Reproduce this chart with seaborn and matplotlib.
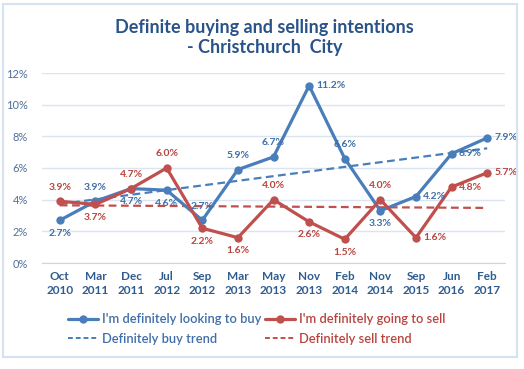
import numpy as np
import pandas as pd
import matplotlib
matplotlib.use("Agg")
import matplotlib.pyplot as plt
import seaborn as sns
from matplotlib.lines import Line2D
from matplotlib.patches import Rectangle
from matplotlib.ticker import FuncFormatter

months = ["Oct", "Mar", "Dec", "Jul", "Sep", "Mar", "May", "Nov", "Feb", "Nov", "Sep", "Jun", "Feb"]
years = ["2010", "2011", "2011", "2012", "2012", "2013", "2013", "2013", "2014", "2014", "2015", "2016", "2017"]
buy = [2.7, 3.9, 4.7, 4.6, 2.7, 5.9, 6.7, 11.2, 6.6, 3.3, 4.2, 6.9, 7.9]
sell = [3.9, 3.7, 4.7, 6.0, 2.2, 1.6, 4.0, 2.6, 1.5, 4.0, 1.6, 4.8, 5.7]

# where each data label sits relative to its point
buy_pos = ["below", "above", "below", "below", "above", "above", "above", "right", "above", "below", "right", "right", "right"]
sell_pos = ["above", "below", "above", "above", "below", "below", "above", "below", "below", "above", "right", "right", "right"]

BLUE = "#4a7ebb"
RED = "#c0504d"
TXT_BLUE = "#3f6ea8"
TXT_RED = "#b8443f"
GRID = "#dbe5f1"

sns.set_style("white")
plt.rcParams["font.family"] = ["Lato", "DejaVu Sans"]

df = pd.DataFrame({"x": np.arange(len(buy)), "buy": buy, "sell": sell})

fig = plt.figure(figsize=(5.24, 3.69), dpi=100)
fig.patches.append(Rectangle((3 / 524, 1 - 357 / 369), 514 / 524, 353 / 369,
                             transform=fig.transFigure, fill=False,
                             edgecolor="#d5e2f2", linewidth=1.5))

ax = fig.add_axes([42 / 524, 1 - 263 / 369, 463 / 524, 190 / 369])

# trend lines (linear fits of the series)
sns.regplot(data=df, x="x", y="buy", scatter=False, ci=None, ax=ax,
            line_kws=dict(color=BLUE, ls=(0, (3.5, 2)), lw=1.6))
sns.regplot(data=df, x="x", y="sell", scatter=False, ci=None, ax=ax,
            line_kws=dict(color=RED, ls=(0, (3.5, 2)), lw=1.6))

sns.lineplot(data=df, x="x", y="buy", marker="o", color=BLUE, lw=2.3,
             markersize=6, markeredgewidth=0, ax=ax)
sns.lineplot(data=df, x="x", y="sell", marker="o", color=RED, lw=2.3,
             markersize=6, markeredgewidth=0, ax=ax)


def put_labels(vals, where, color):
    for i, v in enumerate(vals):
        off = {"above": (0, 7, "center", "bottom"),
               "below": (0, -6, "center", "top"),
               "right": (5, 0, "left", "center")}[where[i]]
        ax.annotate(f"{v:.1f}%", (i, v), xytext=off[:2], textcoords="offset points",
                    ha=off[2], va=off[3], fontsize=7.5, fontweight="bold", color=color)


put_labels(buy, buy_pos, TXT_BLUE)
put_labels(sell, sell_pos, TXT_RED)

ax.set_xlim(-0.5, len(buy) - 0.5)
ax.set_ylim(0, 12)
ax.set_yticks(np.arange(0, 13, 2))
ax.yaxis.set_major_formatter(FuncFormatter(lambda v, p: f"{v:.0f}%"))
ax.set_xticks(np.arange(len(buy)))
ax.set_xticklabels([f"{m}\n{y}" for m, y in zip(months, years)],
                   fontsize=8.5, fontweight="bold", color="#2f5c8f", linespacing=1.3)
ax.set_xticks(np.arange(-0.5, len(buy)), minor=True)
ax.tick_params(axis="x", which="major", length=0, pad=6)
ax.tick_params(axis="x", which="minor", length=4, color="#c9d6e6")
ax.tick_params(axis="y", length=0, labelsize=8, labelcolor="#4f6f99", pad=10)
ax.grid(axis="y", color=GRID, lw=1)
ax.set_axisbelow(True)
for s in ["top", "right", "left"]:
    ax.spines[s].set_visible(False)
ax.spines["bottom"].set_color("#c9d6e6")
ax.set_xlabel("")
ax.set_ylabel("")

fig.text(0.505, 1 - 27 / 369, "Definite buying and selling intentions", ha="center", va="center",
         fontsize=13, fontweight="bold", color="#2a5389")
fig.text(0.505, 1 - 48 / 369, "- Christchurch  City", ha="center", va="center",
         fontsize=13, fontweight="bold", color="#2a5389")

# legend fills column by column, so order is buy, buy trend, sell, sell trend
handles = [
    Line2D([], [], color=BLUE, lw=2.3, marker="o", markersize=5),
    Line2D([], [], color=BLUE, lw=1.4, ls=(0, (2.5, 1.5))),
    Line2D([], [], color=RED, lw=2.3, marker="o", markersize=5),
    Line2D([], [], color=RED, lw=1.4, ls=(0, (2.5, 1.5))),
]
labels = ["I'm definitely looking to buy", "Definitely buy trend",
          "I'm definitely going to sell", "Definitely sell trend"]
leg = fig.legend(handles, labels, ncol=2, loc="center", bbox_to_anchor=(0.49, 1 - 329 / 369),
                 frameon=False, fontsize=9.3, handlelength=2.3, numpoints=1,
                 columnspacing=0.3, handletextpad=0.3, labelspacing=0.6,
                 labelcolor=[TXT_BLUE, TXT_BLUE, TXT_RED, TXT_RED])
for t in leg.get_texts():
    t.set_fontweight("semibold")

fig.savefig("out.png", dpi=100)
